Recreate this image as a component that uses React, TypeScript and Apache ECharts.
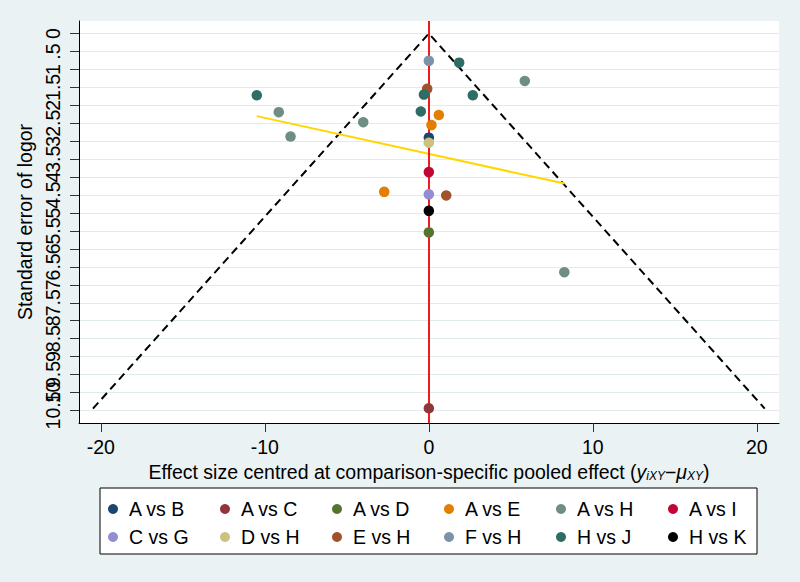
import React, { useEffect, useRef } from "react";
import * as echarts from "echarts";

const comparisons = ["A vs B", "A vs C", "A vs D", "A vs E", "A vs H", "A vs I", "C vs G", "D vs H", "E vs H", "F vs H", "H vs J", "H vs K"];
const colors = ["#1a476f", "#90353b", "#55752f", "#e37e00", "#6e8e84", "#c10534", "#938dd2", "#cac27e", "#a0522d", "#7b92a8", "#2d6d66", "#000000"];

// [centred effect, standard error]
const abPts = [[0, 2.9]];
const acPts = [[0, 10.44]];
const adPts = [[0, 5.54]];
const aePts = [[0.61, 2.27], [0.16, 2.55], [-2.72, 4.41]];
const ahPts = [[5.85, 1.32], [-9.15, 2.19], [-4.0, 2.47], [-8.43, 2.87], [8.26, 6.65]];
const aiPts = [[0, 3.86]];
const cgPts = [[0, 4.48]];
const dhPts = [[0, 3.04]];
const ehPts = [[-0.1, 1.54], [1.06, 4.51]];
const fhPts = [[0, 0.76]];
const hjPts = [[1.85, 0.81], [-0.3, 1.7], [2.68, 1.72], [-10.49, 1.72], [-0.49, 2.17]];
const hkPts = [[0, 4.94]];
const allPts = [abPts, acPts, adPts, aePts, ahPts, aiPts, cgPts, dhPts, ehPts, fhPts, hjPts, hkPts];

const funnelPts = [[-20.48, 10.45], [0, 0], [20.48, 10.45]];
const regressionPts = [[-10.49, 2.3], [8.28, 4.18]];

const xTicks = [-20, -10, 0, 10, 20];
const yTicks = [0, 0.5, 1, 1.5, 2, 2.5, 3, 3.5, 4, 4.5, 5, 5.5, 6, 6.5, 7, 7.5, 8, 8.5, 9, 9.5, 10, 10.5];
const yLabelsWhole = [0, 1, 2, 3, 4, 5, 6, 7, 8, 9, 10];
const yLabelsHalf = [0.5, 1.5, 2.5, 3.5, 4.5, 5.5, 6.5, 7.5, 8.5, 9.5, 10.5];

const FONT = "'Liberation Sans', Arial, sans-serif";

export default function App() {
  const ref = useRef<HTMLDivElement>(null);
  useEffect(() => {
    if (!ref.current) return;
    const chart = echarts.init(ref.current, undefined, { renderer: "svg" });
    const legendX = [113, 225, 337, 449, 561, 673];
    const legendY = [509, 537];
    const legends = comparisons.map((name, i) => ({
      data: [name],
      left: legendX[i % 6] - 5,
      top: legendY[Math.floor(i / 6)] - 10,
      padding: 0,
      itemWidth: 10,
      itemHeight: 10,
      icon: "circle",
      selectedMode: false,
      textStyle: { fontFamily: FONT, fontSize: 19.5, color: "#000", padding: [0, 0, 0, 6] },
    }));
    const yLabelBase = {
      rotate: 90,
      fontSize: 19.5,
      color: "#000",
      margin: 16,
      fontFamily: FONT,
      showMinLabel: true,
      showMaxLabel: true,
      hideOverlap: false,
      formatter: (v: number) => String(v).replace(/^0\./, "."),
    };
    const option: any = {
      animation: false,
      backgroundColor: "#eaf2f3",
      textStyle: { fontFamily: FONT },
      grid: {
        left: 79,
        right: 21,
        top: 21,
        bottom: 159,
        show: true,
        backgroundColor: "#ffffff",
        borderWidth: 0,
        containLabel: false,
      },
      graphic: [
        {
          type: "rect",
          z: -1,
          shape: { x: 100, y: 488, width: 657, height: 66 },
          style: { fill: "#ffffff", stroke: "#000000", lineWidth: 1 },
        },
      ],
      legend: legends,
      xAxis: {
        type: "value",
        min: -21.33,
        max: 21.35,
        axisLine: { onZero: false, lineStyle: { color: "#000", width: 1 } },
        axisTick: { customValues: xTicks, length: 9, lineStyle: { color: "#333" } },
        axisLabel: { customValues: xTicks, fontSize: 19.5, color: "#000", margin: 14, fontFamily: FONT },
        splitLine: { show: false },
        name: "{n|Effect size centred at comparison-specific pooled effect (}{i|y}{s|iXY}{n|−}{i|μ}{s|XY}{n|)}",
        nameLocation: "middle",
        nameGap: 35,
        nameTextStyle: {
          rich: {
            n: { fontSize: 19.5, color: "#000", fontFamily: FONT },
            i: { fontSize: 19.5, color: "#000", fontStyle: "italic", fontFamily: FONT },
            s: { fontSize: 12, color: "#000", fontStyle: "italic", fontFamily: FONT, padding: [8, 0, 0, 0] },
          },
        },
      },
      yAxis: [
        {
          type: "value",
          position: "left",
          inverse: true,
          min: -0.35,
          max: 10.85,
          axisLine: { show: true, onZero: false, lineStyle: { color: "#000", width: 1 } },
          axisTick: { show: true, customValues: yTicks, length: 9, lineStyle: { color: "#333" } },
          axisLabel: { ...yLabelBase, customValues: yLabelsWhole },
          splitLine: { show: false },
          name: "Standard error of logor",
          nameLocation: "middle",
          nameRotate: 90,
          nameGap: 44,
          nameTextStyle: { fontSize: 19.5, color: "#000", fontFamily: FONT },
        },
        {
          type: "value",
          position: "left",
          offset: 0,
          inverse: true,
          min: -0.35,
          max: 10.85,
          axisLine: { show: false, onZero: false },
          axisTick: { show: false },
          axisLabel: { ...yLabelBase, customValues: yLabelsHalf },
          splitLine: { show: false },
        },
      ],
      series: [
        {
          type: "line",
          name: "grid",
          data: [],
          z: 0,
          silent: true,
          markLine: {
            silent: true,
            z: 0,
            symbol: "none",
            label: { show: false },
            lineStyle: { color: "#e1ebee", width: 1, type: "solid" },
            data: yTicks.map((v) => ({ yAxis: v })),
          },
        },
        {
          type: "line",
          name: "funnel",
          data: funnelPts,
          showSymbol: false,
          symbol: "none",
          z: 1,
          lineStyle: { color: "#000", width: 2, type: [8, 5] },
        },
        {
          type: "line",
          name: "regression",
          data: regressionPts,
          showSymbol: false,
          symbol: "none",
          z: 1,
          lineStyle: { color: "#ffd700", width: 2 },
        },
        {
          type: "line",
          name: "null",
          data: [],
          z: 2,
          markLine: {
            silent: true,
            z: 2,
            symbol: "none",
            label: { show: false },
            lineStyle: { color: "#ee1c1c", width: 2, type: "solid" },
            data: [{ xAxis: 0 }],
          },
        },
        ...comparisons.map((name, i) => ({
          type: "scatter",
          name,
          data: allPts[i],
          symbol: "circle",
          symbolSize: 10.5,
          z: 10,
          itemStyle: { color: colors[i], opacity: 1 },
        })),
      ],
    };
    chart.setOption(option);
    return () => chart.dispose();
  }, []);
  return <div ref={ref} style={{ position: "fixed", left: 0, top: 0, width: 800, height: 582 }} />;
}
